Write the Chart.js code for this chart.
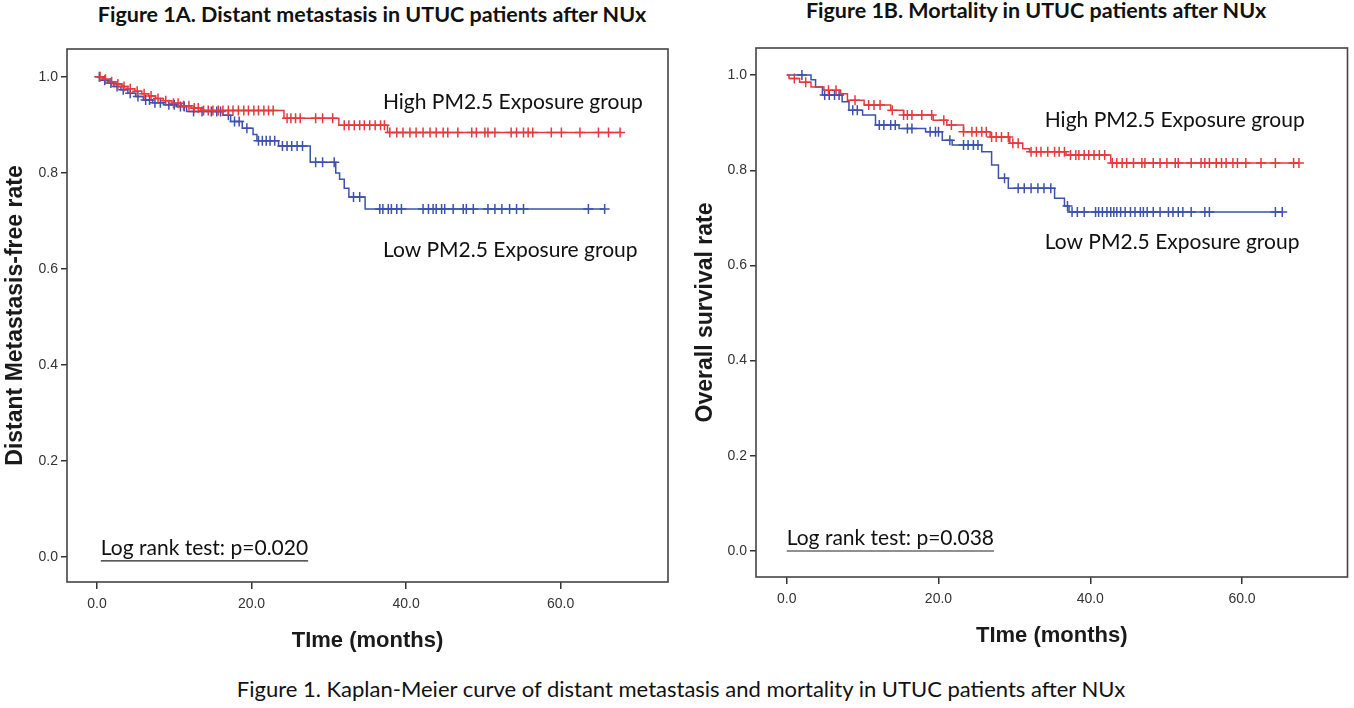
<!DOCTYPE html>
<html>
<head>
<meta charset="utf-8">
<script src="https://cdn.jsdelivr.net/npm/chart.js@4.4.1/dist/chart.umd.min.js"></script>
<style>
  body { margin: 0; background: #fff; width: 1354px; height: 708px; position: relative; overflow: hidden; font-family: Lato, sans-serif; color: #111; }
  canvas { position: absolute; }
  #cA { left: 0; top: 0; }
  #cB { left: 690px; top: 0; }
  .ttl { position: absolute; font-weight: bold; font-size: 21.5px; line-height: 26px; white-space: nowrap; transform: translateX(-50%); }
  #tA { left: 372px; top: 1px; }
  #tB { left: 1036px; top: -3px; }
  #cap { position: absolute; left: 681px; top: 676px; font-size: 22px; line-height: 26px; white-space: nowrap; transform: translateX(-50%); }
</style>
</head>
<body>
<div class="ttl" id="tA">Figure 1A. Distant metastasis in UTUC patients after NUx</div>
<div class="ttl" id="tB">Figure 1B. Mortality in UTUC patients after NUx</div>
<canvas id="cA" width="677" height="665"></canvas>
<canvas id="cB" width="664" height="660"></canvas>
<div id="cap">Figure 1. Kaplan-Meier curve of distant metastasis and mortality in UTUC patients after NUx</div>
<script>
// tick labels
const xTicks = [0, 20, 40, 60];
const yTicks = [0, 0.2, 0.4, 0.6, 0.8, 1.0];

// Fig 1A - distant metastasis-free, step times (months) and survival
const aHighT = [0, 0.8, 1.6, 2.4, 3.2, 4.0, 4.9, 5.8, 6.7, 7.6, 8.6, 9.7, 10.9, 12.2, 13.4, 24.2, 31.3, 37.6, 67.7];
const aHighS = [1.0, 0.995, 0.99, 0.985, 0.98, 0.975, 0.97, 0.965, 0.96, 0.955, 0.95, 0.945, 0.94, 0.935, 0.93, 0.914, 0.899, 0.884, 0.884];
const aLowT = [0, 0.7, 1.4, 2.2, 3.1, 4.0, 5.0, 6.0, 7.2, 8.6, 10.3, 11.6, 16.3, 17.3, 18.8, 20.2, 20.7, 23.5, 27.6, 30.9, 31.4, 32.0, 32.6, 34.7, 65.7];
const aLowS = [1.0, 0.993, 0.987, 0.98, 0.973, 0.966, 0.959, 0.952, 0.946, 0.942, 0.938, 0.928, 0.92, 0.907, 0.893, 0.88, 0.867, 0.856, 0.822, 0.80, 0.787, 0.768, 0.75, 0.725, 0.725];
// censored times
const aHighC = [0.4, 1.1, 1.9, 2.7, 3.5, 4.3, 5.2, 6.1, 7.0, 7.9, 8.9, 9.9, 10.5, 11.2, 11.9, 12.6, 13.1, 13.8, 14.4, 15.0, 15.7, 16.3, 17.0, 17.6, 18.3, 19.0, 19.6, 20.3, 20.9, 21.6, 22.2, 22.8, 24.6, 25.1, 25.7, 26.3, 28.3, 29.2, 30.5, 32.0, 32.6, 33.3, 34.0, 34.6, 35.3, 36.0, 36.7, 37.2, 37.9, 38.8, 39.6, 40.5, 41.3, 42.2, 43.1, 43.9, 44.8, 45.4, 46.7, 48.5, 49.1, 50.2, 50.6, 51.5, 53.6, 54.3, 55.2, 55.8, 56.4, 58.8, 60.1, 62.5, 64.9, 66.2, 67.7];
const aLowC = [0.3, 1.0, 1.8, 2.6, 3.4, 4.3, 5.3, 6.3, 6.8, 7.5, 8.2, 9.3, 10.0, 10.8, 11.3, 12.5, 13.6, 14.8, 15.5, 16.0, 17.0, 17.8, 18.4, 19.4, 20.9, 21.4, 21.9, 22.4, 23.0, 24.0, 24.6, 25.2, 25.9, 26.6, 28.3, 29.2, 30.7, 33.2, 34.0, 36.6, 37.0, 37.7, 38.1, 38.8, 39.4, 42.2, 42.9, 43.5, 43.9, 44.6, 45.0, 46.1, 47.4, 47.8, 48.7, 50.6, 51.5, 52.4, 53.4, 54.3, 55.2, 63.6, 65.7];

// Fig 1B - overall survival
const bHighT = [0, 0.3, 1.7, 3.2, 4.9, 7.1, 8.0, 10.2, 13.7, 15.4, 19.3, 21.1, 23.3, 26.8, 29.4, 31.1, 32.0, 36.8, 42.7, 67.5];
const bHighS = [1.0, 0.993, 0.985, 0.975, 0.968, 0.961, 0.947, 0.937, 0.926, 0.916, 0.905, 0.895, 0.881, 0.87, 0.857, 0.845, 0.839, 0.832, 0.815, 0.815];
const bLowT = [0, 3.2, 3.8, 4.7, 7.3, 8.2, 10.0, 11.7, 14.8, 18.3, 20.5, 21.8, 25.7, 27.0, 27.9, 29.2, 35.3, 36.6, 37.2, 65.3];
const bLowS = [1.0, 0.99, 0.975, 0.958, 0.944, 0.926, 0.916, 0.895, 0.888, 0.881, 0.863, 0.853, 0.839, 0.811, 0.783, 0.762, 0.741, 0.725, 0.712, 0.712];
const bHighC = [1.0, 2.5, 5.5, 6.5, 9.0, 10.8, 11.5, 12.3, 13.9, 15.4, 15.9, 16.5, 17.8, 19.1, 20.7, 21.7, 23.3, 24.4, 25.0, 25.7, 26.3, 27.0, 27.6, 28.3, 29.2, 29.8, 30.5, 32.2, 32.9, 33.5, 34.4, 35.3, 35.9, 36.6, 37.4, 38.1, 38.5, 39.2, 39.8, 40.5, 41.2, 41.9, 42.9, 43.5, 44.2, 44.8, 45.7, 46.8, 47.2, 48.3, 49.2, 50.1, 51.2, 51.6, 53.3, 54.6, 55.1, 55.7, 56.6, 57.3, 57.9, 58.8, 59.4, 60.5, 62.5, 64.4, 66.8, 67.5];
const bLowC = [2.0, 5.0, 5.6, 6.3, 6.9, 8.7, 9.3, 12.2, 12.8, 13.7, 14.3, 15.9, 16.5, 18.9, 19.6, 20.0, 21.5, 23.3, 23.9, 24.6, 25.2, 28.7, 30.5, 31.3, 32.2, 33.1, 33.9, 34.8, 37.0, 37.6, 38.3, 39.2, 40.7, 41.1, 41.6, 42.2, 42.7, 43.1, 43.5, 44.0, 44.6, 45.3, 45.9, 46.6, 47.0, 47.5, 48.3, 49.2, 50.3, 50.9, 51.6, 52.2, 53.3, 55.1, 55.7, 64.4, 65.3];

const RED = '#e6393e';
const BLUE = '#3d52ad';

function steps(T, S) {
  return T.map((t, i) => ({ x: t, y: S[i] }));
}

// censor mark sits on the curve at time t
function marks(C, T, S) {
  return C.map(t => {
    let v = S[0];
    for (let i = 0; i < T.length; i++) if (T[i] <= t) v = S[i];
    return { x: t, y: v };
  });
}

const boxPlugin = {
  id: 'box',
  afterDraw(chart) {
    const a = chart.chartArea, ctx = chart.ctx;
    ctx.save();
    ctx.strokeStyle = '#444';
    ctx.lineWidth = 1.6;
    ctx.strokeRect(a.left, a.top, a.right - a.left, a.bottom - a.top);
    ctx.restore();
  }
};

const notesPlugin = {
  id: 'notes',
  afterDatasetsDraw(chart, args, opts) {
    const ctx = chart.ctx, sx = chart.scales.x, sy = chart.scales.y;
    ctx.save();
    ctx.font = '21px Lato';
    ctx.fillStyle = '#111';
    ctx.textBaseline = 'middle';
    opts.items.forEach(n => {
      const x = sx.getPixelForValue(n.t), y = sy.getPixelForValue(n.v);
      ctx.fillText(n.text, x, y);
      if (n.under) {
        const w = ctx.measureText(n.text).width;
        ctx.strokeStyle = '#222';
        ctx.lineWidth = 1.2;
        ctx.beginPath();
        ctx.moveTo(x, y + 13);
        ctx.lineTo(x + w, y + 13);
        ctx.stroke();
      }
    });
    ctx.restore();
  }
};

function makeChart(id, s) {
  return new Chart(document.getElementById(id), {
    type: 'line',
    data: {
      datasets: [
        { data: marks(s.highC, s.highT, s.highS), showLine: false, pointStyle: 'cross', pointRadius: 5, borderColor: RED, borderWidth: 1.5 },
        { data: steps(s.highT, s.highS), stepped: 'before', borderColor: RED, borderWidth: 1.5, pointRadius: 0, fill: false },
        { data: marks(s.lowC, s.lowT, s.lowS), showLine: false, pointStyle: 'cross', pointRadius: 5, borderColor: BLUE, borderWidth: 1.5 },
        { data: steps(s.lowT, s.lowS), stepped: 'before', borderColor: BLUE, borderWidth: 1.5, pointRadius: 0, fill: false }
      ]
    },
    options: {
      responsive: false,
      animation: false,
      layout: { padding: s.pad },
      plugins: {
        legend: { display: false },
        tooltip: { enabled: false },
        notes: { items: s.notes }
      },
      scales: {
        x: {
          type: 'linear',
          min: s.xMin, max: s.xMax,
          afterBuildTicks: sc => { sc.ticks = xTicks.map(v => ({ value: v })); },
          afterFit: sc => { sc.height = 75; },
          ticks: { callback: v => v.toFixed(1), font: { family: 'Liberation Sans', size: 14 }, color: '#333', padding: 7, maxRotation: 0, autoSkip: false },
          grid: { drawOnChartArea: false, tickLength: 7, color: '#333', lineWidth: 1.5 },
          border: { display: false },
          title: { display: true, text: 'TIme (months)', font: { family: 'Liberation Sans', size: 22, weight: 'bold' }, color: '#1a1a1a', padding: { top: 3, bottom: 3 } }
        },
        y: {
          min: s.yMin, max: s.yMax,
          afterBuildTicks: sc => { sc.ticks = yTicks.map(v => ({ value: v })); },
          afterFit: sc => { sc.width = s.yWidth; },
          ticks: { callback: v => v.toFixed(1), font: { family: 'Liberation Sans', size: 14 }, color: '#333', padding: 3, autoSkip: false },
          grid: { drawOnChartArea: false, tickLength: 6, color: '#333', lineWidth: 1.5 },
          border: { display: false },
          title: { display: true, text: s.yTitle, font: { family: 'Liberation Sans', size: 23, weight: 'bold' }, color: '#1a1a1a', padding: { top: 2, bottom: 2 } }
        }
      }
    },
    plugins: [boxPlugin, notesPlugin]
  });
}

makeChart('cA', {
  highT: aHighT, highS: aHighS, lowT: aLowT, lowS: aLowS, highC: aHighC, lowC: aLowC,
  xMin: -3.88, xMax: 73.9, yMin: -0.052, yMax: 1.058, yWidth: 67,
  pad: { left: 0, top: 49, right: 9, bottom: 8 },
  yTitle: 'Distant Metastasis-free rate',
  notes: [
    { text: 'High PM2.5 Exposure group', t: 37.0, v: 0.948 },
    { text: 'Low PM2.5 Exposure group', t: 37.0, v: 0.638 },
    { text: 'Log rank test: p=0.020', t: 0.5, v: 0.019, under: true }
  ]
});

makeChart('cB', {
  highT: bHighT, highS: bHighS, lowT: bLowT, lowS: bLowS, highC: bHighC, lowC: bLowC,
  xMin: -4.05, xMax: 73.9, yMin: -0.055, yMax: 1.057, yWidth: 66,
  pad: { left: 0, top: 48, right: 2, bottom: 8 },
  yTitle: 'Overall survival rate',
  notes: [
    { text: 'High PM2.5 Exposure group', t: 34.0, v: 0.905 },
    { text: 'Low PM2.5 Exposure group', t: 34.0, v: 0.649 },
    { text: 'Log rank test: p=0.038', t: 0.0, v: 0.027, under: true }
  ]
});
</script>
</body>
</html>
